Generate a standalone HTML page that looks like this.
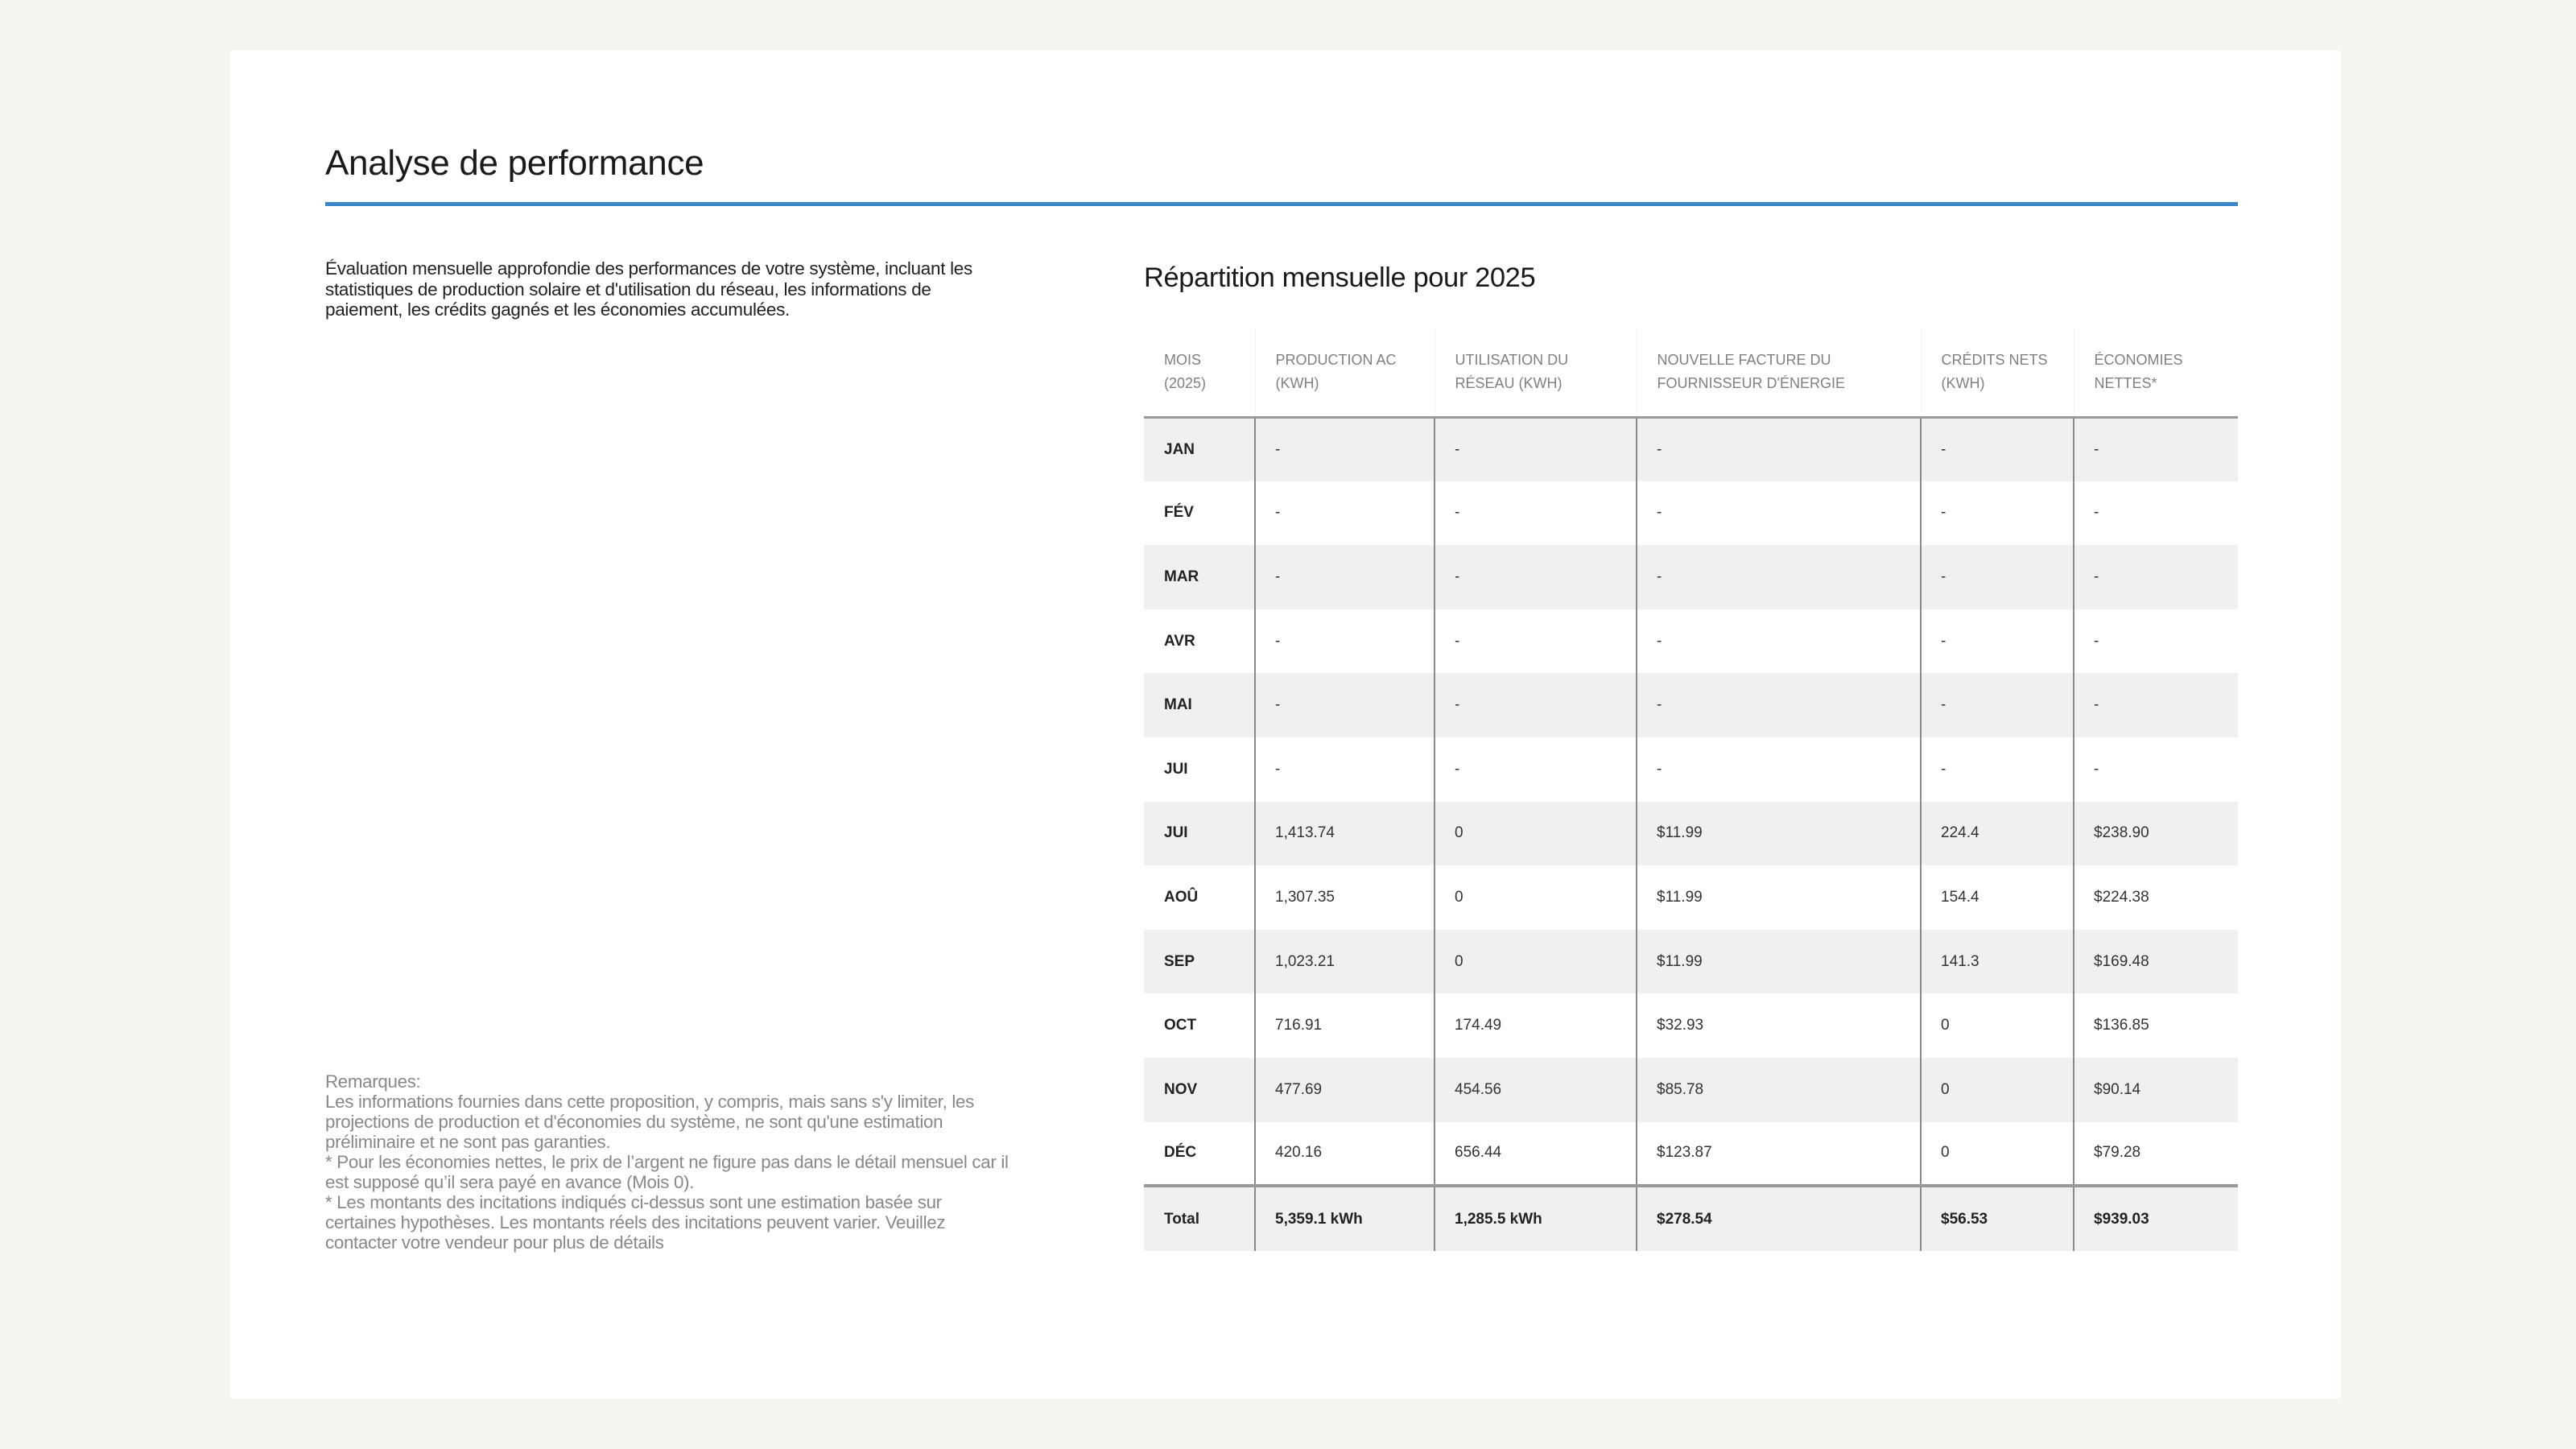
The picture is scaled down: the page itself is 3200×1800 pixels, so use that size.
<!DOCTYPE html>
<html><head><meta charset="utf-8"><style>
*{margin:0;padding:0;box-sizing:border-box}
body{width:3200px;height:1800px;background:#f5f4f0;font-family:"Liberation Sans",sans-serif;position:relative;overflow:hidden}
.card{position:absolute;left:286px;top:63px;width:2622px;height:1674px;background:#fff}
h1{position:absolute;left:404px;top:178px;font-size:44px;font-weight:normal;color:#1a1a1a;letter-spacing:-0.3px}
.rule{position:absolute;left:404px;top:251px;width:2376px;height:5px;background:#3a87c8}
.desc{position:absolute;left:404px;top:321px;font-size:22.5px;line-height:25.5px;color:#222;letter-spacing:-0.3px}
.rem{position:absolute;left:404px;top:1331px;font-size:22.3px;line-height:25px;color:#888;letter-spacing:-0.3px}
h2{position:absolute;left:1421px;top:326px;font-size:34.5px;font-weight:normal;color:#1a1a1a;letter-spacing:-0.4px}
table{position:absolute;left:1421px;top:408px;width:1359px;border-collapse:collapse;table-layout:fixed}
th{height:110px;text-align:left;font-weight:normal;font-size:18px;line-height:29px;color:#808080;padding:0 0 0 25px;border-bottom:3px solid #999;border-left:1px solid #f2f2f2;vertical-align:middle}
th:first-child{border-left:none}
td{height:79.6px;font-size:19px;color:#333;padding-left:24px;border-left:2px solid #8a8a8a}
td:first-child{border-left:none;font-weight:bold;color:#222;padding-left:25px}
tr.g td{background:#f0f0f0}
tr.tot td{height:81px;border-top:4px solid #999;font-weight:bold;color:#222}
</style></head><body>
<div class="card"></div>
<h1>Analyse de performance</h1>
<div class="rule"></div>
<div class="desc">Évaluation mensuelle approfondie des performances de votre système, incluant les<br>statistiques de production solaire et d'utilisation du réseau, les informations de<br>paiement, les crédits gagnés et les économies accumulées.</div>
<div class="rem">Remarques:<br>Les informations fournies dans cette proposition, y compris, mais sans s'y limiter, les<br>projections de production et d'économies du système, ne sont qu'une estimation<br>préliminaire et ne sont pas garanties.<br>* Pour les économies nettes, le prix de l’argent ne figure pas dans le détail mensuel car il<br>est supposé qu’il sera payé en avance (Mois 0).<br>* Les montants des incitations indiqués ci-dessus sont une estimation basée sur<br>certaines hypothèses. Les montants réels des incitations peuvent varier. Veuillez<br>contacter votre vendeur pour plus de détails</div>
<h2>Répartition mensuelle pour 2025</h2>
<table>
<colgroup><col style="width:138px"><col style="width:223px"><col style="width:251px"><col style="width:353px"><col style="width:190px"><col style="width:204px"></colgroup>
<tr><th>MOIS<br>(2025)</th><th>PRODUCTION AC<br>(KWH)</th><th>UTILISATION DU<br>RÉSEAU (KWH)</th><th>NOUVELLE FACTURE DU<br>FOURNISSEUR D'ÉNERGIE</th><th>CRÉDITS NETS<br>(KWH)</th><th>ÉCONOMIES<br>NETTES*</th></tr>
<tr class="g"><td>JAN</td><td>-</td><td>-</td><td>-</td><td>-</td><td>-</td></tr>
<tr><td>FÉV</td><td>-</td><td>-</td><td>-</td><td>-</td><td>-</td></tr>
<tr class="g"><td>MAR</td><td>-</td><td>-</td><td>-</td><td>-</td><td>-</td></tr>
<tr><td>AVR</td><td>-</td><td>-</td><td>-</td><td>-</td><td>-</td></tr>
<tr class="g"><td>MAI</td><td>-</td><td>-</td><td>-</td><td>-</td><td>-</td></tr>
<tr><td>JUI</td><td>-</td><td>-</td><td>-</td><td>-</td><td>-</td></tr>
<tr class="g"><td>JUI</td><td>1,413.74</td><td>0</td><td>$11.99</td><td>224.4</td><td>$238.90</td></tr>
<tr><td>AOÛ</td><td>1,307.35</td><td>0</td><td>$11.99</td><td>154.4</td><td>$224.38</td></tr>
<tr class="g"><td>SEP</td><td>1,023.21</td><td>0</td><td>$11.99</td><td>141.3</td><td>$169.48</td></tr>
<tr><td>OCT</td><td>716.91</td><td>174.49</td><td>$32.93</td><td>0</td><td>$136.85</td></tr>
<tr class="g"><td>NOV</td><td>477.69</td><td>454.56</td><td>$85.78</td><td>0</td><td>$90.14</td></tr>
<tr><td>DÉC</td><td>420.16</td><td>656.44</td><td>$123.87</td><td>0</td><td>$79.28</td></tr>
<tr class="g tot"><td>Total</td><td>5,359.1 kWh</td><td>1,285.5 kWh</td><td>$278.54</td><td>$56.53</td><td>$939.03</td></tr>
</table>
</body></html>
